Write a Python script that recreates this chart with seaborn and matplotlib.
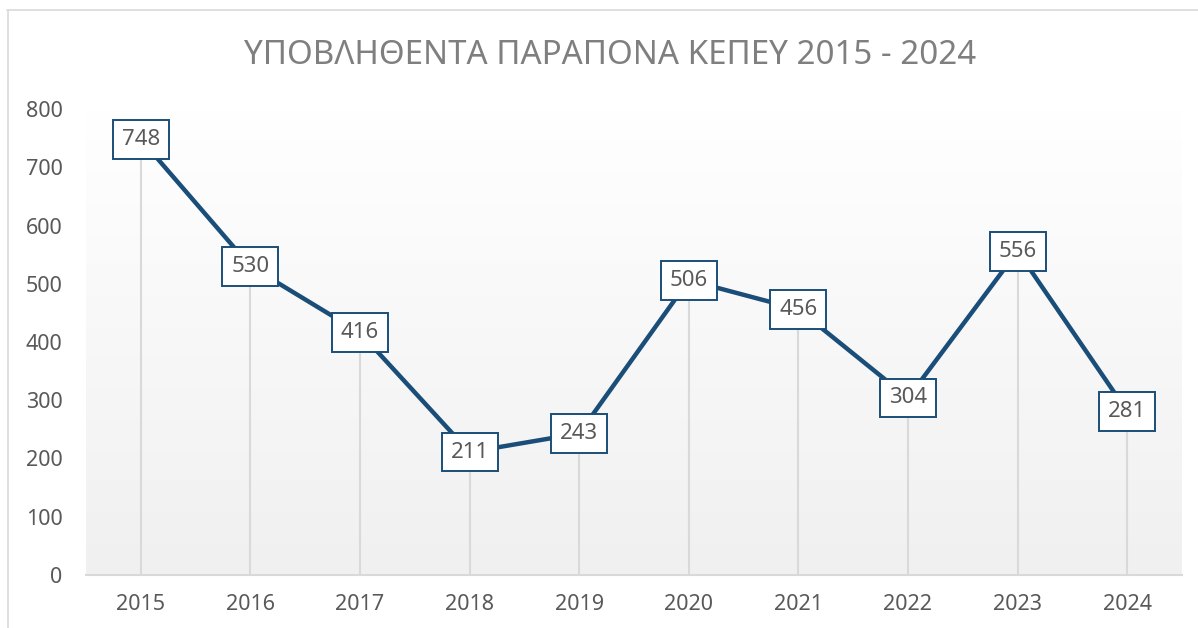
import matplotlib
matplotlib.use("Agg")
import matplotlib.pyplot as plt
import numpy as np
import pandas as pd
import seaborn as sns

years = ["2015", "2016", "2017", "2018", "2019", "2020", "2021", "2022", "2023", "2024"]
complaints = [748, 530, 416, 211, 243, 506, 456, 304, 556, 281]
y_ticks = [0, 100, 200, 300, 400, 500, 600, 700, 800]
title = "ΥΠΟΒΛΗΘΕΝΤΑ ΠΑΡΑΠΟΝΑ ΚΕΠΕΥ 2015 - 2024"

LINE_COLOR = "#1a4e78"
TEXT_COLOR = "#595959"
GRID_COLOR = "#d9d9d9"

sns.set_style("white")
plt.rcParams["font.family"] = ["Noto Sans", "DejaVu Sans"]

df = pd.DataFrame({"year": years, "value": complaints})

fig = plt.figure(figsize=(11.98, 6.28), dpi=100)
ax = fig.add_axes([86 / 1198, 1 - 575 / 628, (1182 - 86) / 1198, (575 - 109) / 628])

# outer chart border (top and left visible)
fig.add_artist(plt.Line2D([7 / 1198, 1], [1 - 10 / 628] * 2, color=GRID_COLOR, lw=1.2))
fig.add_artist(plt.Line2D([8 / 1198] * 2, [0, 1 - 10 / 628], color=GRID_COLOR, lw=1.2))

n = len(years)
ax.set_xlim(-0.5, n - 0.5)
ax.set_ylim(0, 800)

# vertical gradient background: white at top, light gray at bottom
grad = np.linspace(0.0, 1.0, 256).reshape(-1, 1)
cmap = matplotlib.colors.LinearSegmentedColormap.from_list("bg", ["#f0f0f0", "#ffffff"])
ax.imshow(grad, extent=(-0.5, n - 0.5, 0, 800), aspect="auto", cmap=cmap,
          origin="lower", zorder=0, vmin=0, vmax=1)

# drop lines
ax.vlines(range(n), 0, complaints, color=GRID_COLOR, lw=1.5, zorder=1)

sns.lineplot(data=df, x="year", y="value", color=LINE_COLOR, lw=3.2, ax=ax,
             zorder=2, sort=False)

for i, v in enumerate(complaints):
    ax.text(i, v, str(v), ha="center", va="center", fontsize=16, color=TEXT_COLOR,
            zorder=3,
            bbox=dict(boxstyle="square,pad=0.4", fc="white", ec=LINE_COLOR, lw=1.4))

ax.set_yticks(y_ticks)
ax.set_xticks(range(n))
ax.set_xticklabels(years)
ax.tick_params(axis="both", length=0, labelsize=15.5, labelcolor=TEXT_COLOR)
ax.tick_params(axis="y", pad=17)
ax.tick_params(axis="x", pad=14)
ax.set_xlabel("")
ax.set_ylabel("")
for side in ["top", "right", "left"]:
    ax.spines[side].set_visible(False)
ax.spines["bottom"].set_color(GRID_COLOR)
ax.spines["bottom"].set_linewidth(1.5)
ax.spines["bottom"].set_zorder(1)

fig.text(610 / 1198, 1 - 55 / 628, title, ha="center", va="center", fontsize=23.8,
         color="#7f7f7f")

fig.savefig("out.png", dpi=100)
